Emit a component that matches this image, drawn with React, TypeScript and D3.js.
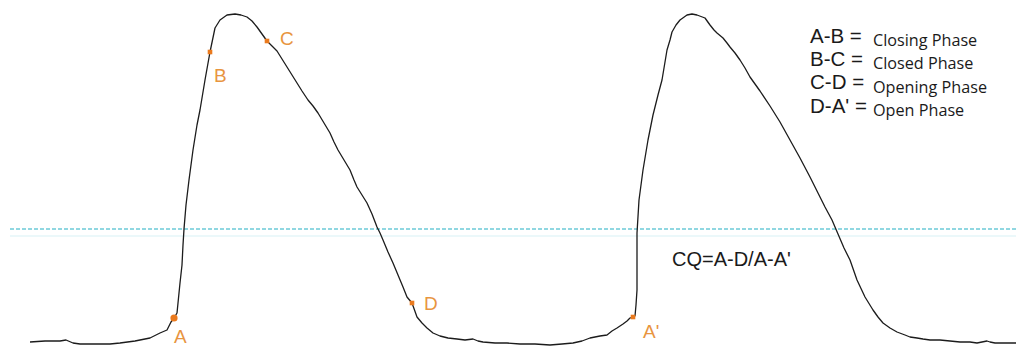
import React from "react";
import * as d3 from "d3";

// Electroglottograph (EGG) trace: two glottal cycles.
// sample index along the time axis, amplitude in arbitrary units
const samples = [
  30, 45, 60, 66, 73, 80, 110, 120, 135, 150, 160, 167, 171, 174, 177, 178, 180, 182, 183, 184,
  186, 189, 193, 197, 200, 205, 210, 215, 220, 227, 235, 241, 247, 252, 257, 262, 267, 272, 277, 282,
  287, 292, 297, 302, 308, 313, 318, 324, 330, 334, 338, 344, 350, 354, 357, 362, 367, 372, 377, 380,
  383, 388, 393, 398, 403, 407, 412, 417, 422, 427, 433, 440, 448, 457, 465, 473, 478, 483, 495, 507,
  520, 535, 550, 562, 573, 582, 590, 600, 607, 612, 617, 623, 627, 630, 633, 635, 636, 637, 637, 637,
  639, 643, 648, 653, 658, 662, 665, 667, 670, 672, 676, 680, 687, 692, 697, 705, 710, 714, 717, 723,
  727, 730, 735, 740, 745, 750, 760, 770, 780, 790, 800, 810, 818, 825, 832, 838, 844, 850, 857, 865,
  873, 878, 883, 890, 897, 905, 910, 917, 923, 930, 940, 950, 960, 970, 977, 982, 987, 990, 995, 1005,
  1016,
];
const amplitude = [
  3, 4, 4, 5, 2, 1, 1, 2, 4, 7, 12, 15, 23, 27, 32, 42, 62, 80, 100, 116,
  140, 165, 195, 220, 235, 265, 293, 317, 325, 330, 331, 330, 328, 324, 318, 311, 304, 299, 294, 286,
  278, 270, 262, 254, 245, 239, 232, 222, 212, 203, 195, 185, 175, 165, 158, 150, 142, 131, 118, 112,
  105, 93, 82, 70, 58, 48, 42, 28, 22, 17, 12, 9, 7, 6, 5, 6, 4, 3, 2, 2,
  1, 1, 0, 1, 2, 4, 7, 9, 10, 14, 17, 21, 24, 27, 28, 29, 40, 55, 75, 112,
  145, 175, 205, 230, 250, 265, 283, 295, 305, 313, 320, 325, 330, 331, 330, 327, 320, 315, 312, 307,
  302, 298, 292, 285, 277, 268, 254, 239, 223, 205, 187, 168, 152, 138, 125, 111, 97, 85, 65, 48,
  35, 28, 22, 17, 13, 10, 8, 7, 6, 5, 5, 4, 3, 3, 2, 3, 4, 3, 2, 2,
  2,
];

// contact-quotient threshold level
const threshold = 116;

// phase markers (sample positions on the trace)
const markerNames = ["A", "B", "C", "D", "A'"];
const markerSamples = [174, 210, 267, 412, 633];

// legend rows
const legendKeys = ["A-B =", "B-C =", "C-D =", "D-A' ="];
const legendPhases = ["Closing Phase", "Closed Phase", "Opening Phase", "Open Phase"];

const formula = "CQ=A-D/A-A'";

const W = 1016;
const H = 347;

// label placement relative to each marker
const labelOffset: Record<string, [number, number]> = {
  A: [0, 25],
  B: [4, 30],
  C: [13, 4],
  D: [12, 7],
  "A'": [10, 21],
};

export default function App() {
  const x = d3.scaleLinear().domain([0, 1016]).range([0, W]);
  const y = d3.scaleLinear().domain([0, 331]).range([345, 14]);

  const pts: [number, number][] = samples.map((s, i) => [s, amplitude[i]]);
  const line = d3
    .line<[number, number]>()
    .x((d) => x(d[0]))
    .y((d) => y(d[1]))
    .curve(d3.curveLinear);

  const ampAt = (s: number) => amplitude[samples.indexOf(s)];

  const markerColor = "#ea7a1e";
  const labelColor = "#e8953f";

  return (
    <svg
      width={W}
      height={H}
      style={{ position: "absolute", left: 0, top: 0, background: "#fff" }}
    >
      {/* threshold line with its faint shadow */}
      <line
        x1={x(10)}
        x2={W}
        y1={y(threshold) + 7}
        y2={y(threshold) + 7}
        stroke="#5cc8d8"
        strokeOpacity={0.12}
        strokeWidth={2}
      />
      <line
        x1={x(10)}
        x2={W}
        y1={y(threshold)}
        y2={y(threshold)}
        stroke="#6ccad8"
        strokeWidth={1.5}
        strokeDasharray="4 2"
      />

      <path d={line(pts) ?? ""} fill="none" stroke="#1c1c1c" strokeWidth={1.3} strokeLinejoin="round" />

      {markerNames.map((name, i) => {
        const s = markerSamples[i];
        const cx = x(s);
        const cy = y(ampAt(s));
        const [dx, dy] = labelOffset[name];
        return (
          <g key={name}>
            {name === "A" ? (
              <circle cx={cx} cy={cy} r={3.6} fill={markerColor} />
            ) : (
              <rect x={cx - 2.3} y={cy - 2.3} width={4.6} height={4.6} fill={markerColor} />
            )}
            <text
              x={cx + dx}
              y={cy + dy}
              fill={labelColor}
              fontFamily="Liberation Sans, Arial, sans-serif"
              fontSize={19}
            >
              {name}
            </text>
          </g>
        );
      })}

      {legendKeys.map((k, i) => (
        <g key={k}>
          <text
            x={810}
            y={43 + i * 23.2}
            fill="#1a1a1a"
            fontFamily="Liberation Sans, Arial, sans-serif"
            fontSize={20.5}
          >
            {k}
          </text>
          <text
            x={873}
            y={46 + i * 23.3}
            fill="#1a1a1a"
            fontFamily="Open Sans, sans-serif"
            fontSize={16.2}
          >
            {legendPhases[i]}
          </text>
        </g>
      ))}

      <text
        x={672}
        y={266}
        fill="#1a1a1a"
        fontFamily="Liberation Sans, Arial, sans-serif"
        fontSize={20}
      >
        {formula}
      </text>
    </svg>
  );
}
